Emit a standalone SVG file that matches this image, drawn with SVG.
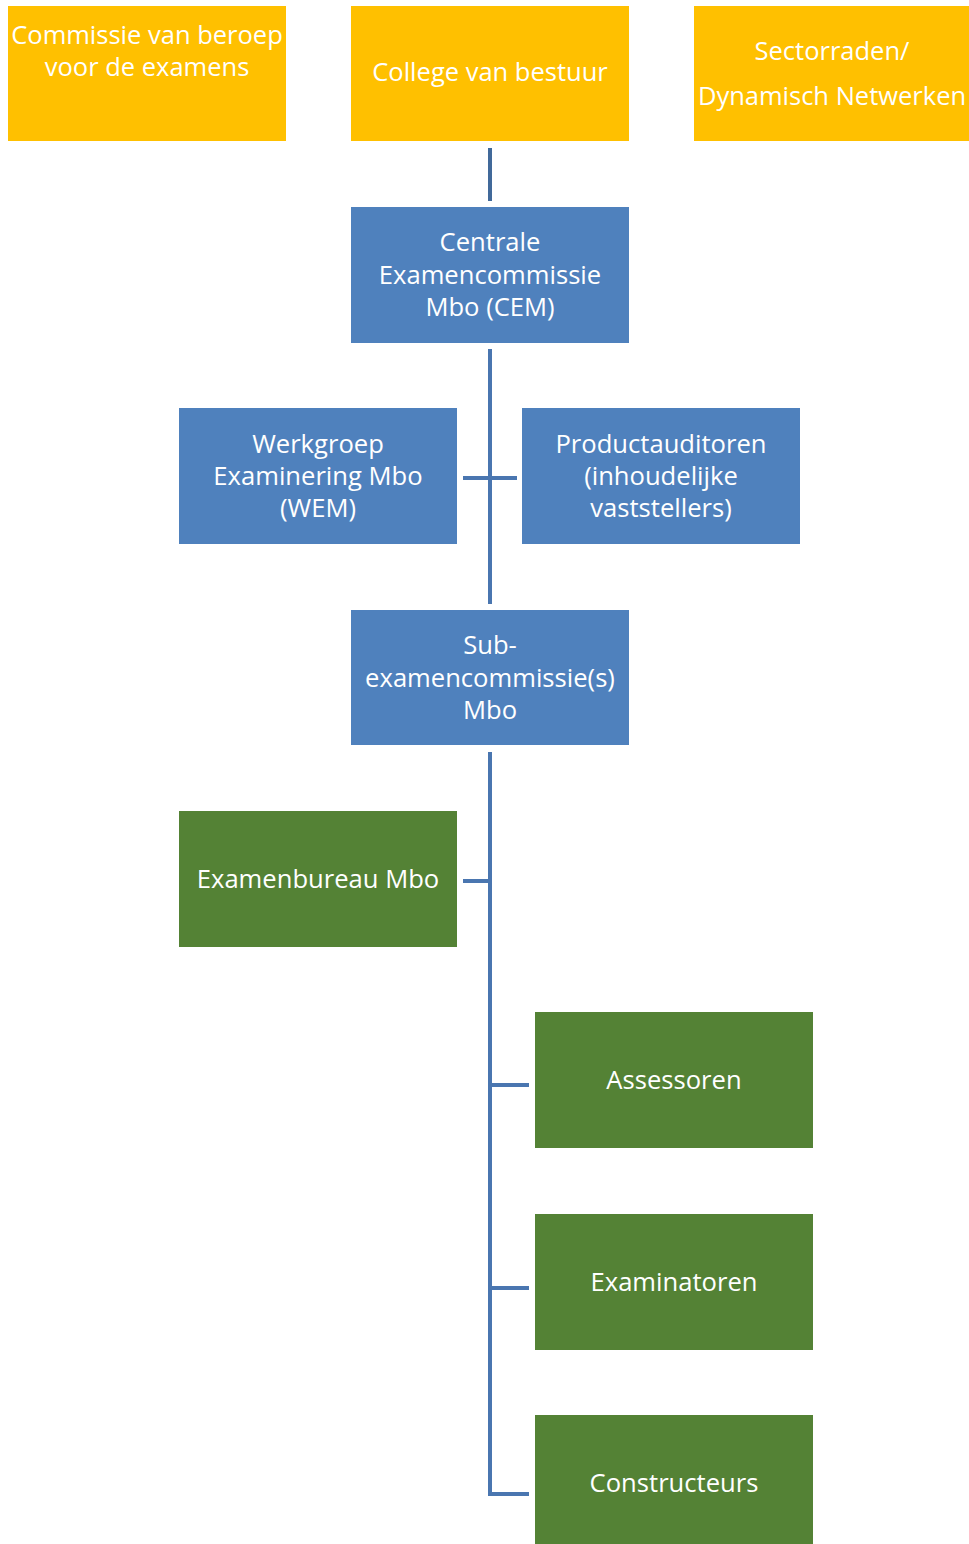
<svg xmlns="http://www.w3.org/2000/svg" width="969" height="1544" viewBox="0 0 969 1544">
<style>
.y{fill:#FFC000}
.b{fill:#4F81BD}
.g{fill:#548235}
.t{fill:#fff;font-family:"Open Sans",sans-serif;font-size:25.6px;text-anchor:middle}
.tc{fill:#fff;font-family:"Open Sans",sans-serif;font-size:25.5px;text-anchor:middle}
.c{stroke:#4A76B0;stroke-width:4;fill:none}
</style>
<rect width="969" height="1544" fill="#fff"/>
<g id="connectors">
<line class="c" x1="490" y1="148" x2="490" y2="201" style="stroke:#41699A"/>
<line class="c" x1="490" y1="349" x2="490" y2="604"/>
<line class="c" x1="463" y1="478" x2="517" y2="478"/>
<polyline class="c" points="490,752 490,1494 529,1494"/>
<line class="c" x1="463" y1="881" x2="490" y2="881"/>
<line class="c" x1="490" y1="1085" x2="529" y2="1085"/>
<line class="c" x1="490" y1="1288" x2="529" y2="1288"/>
</g>
<g id="commissie">
<rect class="y" x="8" y="6" width="278" height="135"/>
<text class="tc" x="147" y="44">Commissie van beroep</text>
<text class="tc" x="147" y="76">voor de examens</text>
</g>
<g id="college">
<rect class="y" x="351" y="6" width="278" height="135"/>
<text class="tc" x="490" y="81">College van bestuur</text>
</g>
<g id="sectorraden">
<rect class="y" x="694" y="6" width="275" height="135"/>
<text class="tc" x="832" y="60">Sectorraden/</text>
<text class="tc" x="832" y="105">Dynamisch Netwerken</text>
</g>
<g id="cem">
<rect class="b" x="351" y="207" width="278" height="136"/>
<text class="t" x="490" y="251">Centrale</text>
<text class="t" x="490" y="284">Examencommissie</text>
<text class="t" x="490" y="316">Mbo (CEM)</text>
</g>
<g id="wem">
<rect class="b" x="179" y="408" width="278" height="136"/>
<text class="t" x="318" y="453">Werkgroep</text>
<text class="t" x="318" y="485">Examinering Mbo</text>
<text class="t" x="318" y="517">(WEM)</text>
</g>
<g id="productauditoren">
<rect class="b" x="522" y="408" width="278" height="136"/>
<text class="t" x="661" y="453">Productauditoren</text>
<text class="t" x="661" y="485">(inhoudelijke</text>
<text class="t" x="661" y="517">vaststellers)</text>
</g>
<g id="sub">
<rect class="b" x="351" y="610" width="278" height="135"/>
<text class="t" x="490" y="654">Sub-</text>
<text class="t" x="490" y="687">examencommissie(s)</text>
<text class="t" x="490" y="719">Mbo</text>
</g>
<g id="examenbureau">
<rect class="g" x="179" y="811" width="278" height="136"/>
<text class="t" x="318" y="888">Examenbureau Mbo</text>
</g>
<g id="assessoren">
<rect class="g" x="535" y="1012" width="278" height="136"/>
<text class="t" x="674" y="1089">Assessoren</text>
</g>
<g id="examinatoren">
<rect class="g" x="535" y="1214" width="278" height="136"/>
<text class="t" x="674" y="1291">Examinatoren</text>
</g>
<g id="constructeurs">
<rect class="g" x="535" y="1415" width="278" height="135"/>
<text class="t" x="674" y="1492">Constructeurs</text>
</g>
</svg>
